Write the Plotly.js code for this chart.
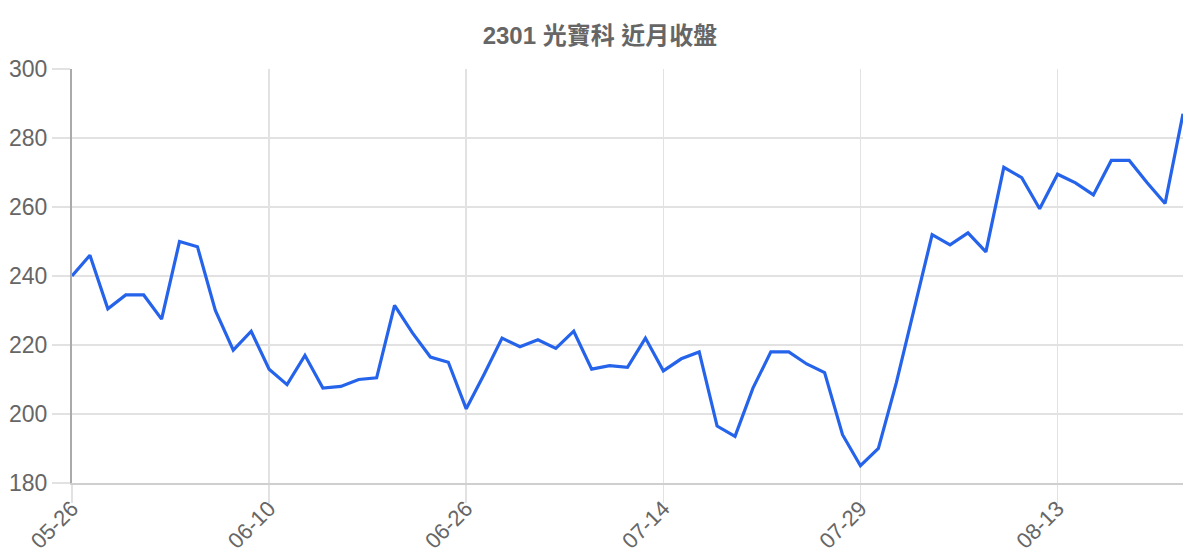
<!DOCTYPE html>
<html>
<head>
<meta charset="utf-8">
<script src="https://cdn.plot.ly/plotly-3.0.1.min.js"></script>
<style>
  html, body { margin: 0; padding: 0; background: #fff; }
  #chart { width: 1200px; height: 560px; }
</style>
</head>
<body>
<div id="chart"></div>
<script>
// 2301 光寶科 - closing prices for the last month or so
const fechas = [
  '05-26', '05-27', '05-28', '05-29', '05-30', '06-02', '06-03', '06-04', '06-05', '06-06',
  '06-09', '06-10', '06-11', '06-12', '06-13', '06-16', '06-17', '06-18', '06-20', '06-23',
  '06-24', '06-25', '06-26', '06-27', '06-30', '07-01', '07-02', '07-03', '07-04', '07-08',
  '07-09', '07-10', '07-11', '07-14', '07-15', '07-16', '07-17', '07-18', '07-21', '07-22',
  '07-23', '07-24', '07-25', '07-28', '07-29', '07-30', '07-31', '08-01', '08-04', '08-05',
  '08-06', '08-07', '08-08', '08-11', '08-12', '08-13', '08-14', '08-15', '08-18', '08-19',
  '08-20', '08-21', '08-22'
];
const cierres = [
  240, 246, 230.5, 234.5, 234.5, 227.5, 250, 248.5, 230, 218.5,
  224, 213, 208.5, 217, 207.5, 208, 210, 210.5, 231.5, 223.5,
  216.5, 215, 201.5, 211.5, 222, 219.5, 221.5, 219, 224, 213,
  214, 213.5, 222, 212.5, 216, 218, 196.5, 193.5, 207.5, 218,
  218, 214.5, 212, 194, 185, 190, 209, 230.5, 252, 249,
  252.5, 247, 271.5, 268.5, 259.5, 269.5, 267, 263.5, 273.5, 273.5,
  267, 261, 287
];
const ticksX = ['05-26', '06-10', '06-26', '07-14', '07-29', '08-13'];
const ticksY = [180, 200, 220, 240, 260, 280, 300];

const fuente = 'Liberation Sans, Arial, "Noto Sans CJK TC", sans-serif';

Plotly.newPlot('chart', [{
  x: fechas, y: cierres, type: 'scatter', mode: 'lines',
  line: { color: '#2563eb', width: 3.2 }, hoverinfo: 'x+y'
}], {
  width: 1200, height: 560,
  margin: { t: 69, b: 77, l: 72, r: 17 },
  paper_bgcolor: '#fff', plot_bgcolor: '#fff',
  showlegend: false,
  font: { family: fuente, color: '#666' },
  title: {
    text: '<b>2301 光寶科 近月收盤</b>',
    font: { family: fuente, size: 24, color: '#666' },
    x: 0.5, xanchor: 'center', y: 0.937, yanchor: 'middle'
  },
  xaxis: {
    type: 'category', range: [0, fechas.length - 1],
    tickmode: 'array', tickvals: ticksX, ticktext: ticksX,
    tickangle: -45, tickfont: { size: 22, color: '#666' },
    ticks: 'outside', ticklen: 18, tickcolor: '#e2e2e2', tickwidth: 1.5,
    ticklabelstandoff: -16, automargin: false,
    showgrid: true, gridcolor: '#e2e2e2', gridwidth: 1.5,
    showline: true, linecolor: '#cfcfcf', linewidth: 2,
    zeroline: false, fixedrange: true
  },
  yaxis: {
    range: [180, 300], tickmode: 'array', tickvals: ticksY,
    tickfont: { size: 23, color: '#666' },
    ticks: 'outside', ticklen: 18, tickcolor: '#e2e2e2', tickwidth: 1.5,
    automargin: false,
    showgrid: true, gridcolor: '#e2e2e2', gridwidth: 1.5,
    showline: true, linecolor: '#aaaaaa', linewidth: 2,
    zeroline: false, fixedrange: true
  }
}, { displayModeBar: false, staticPlot: true });
</script>
</body>
</html>
